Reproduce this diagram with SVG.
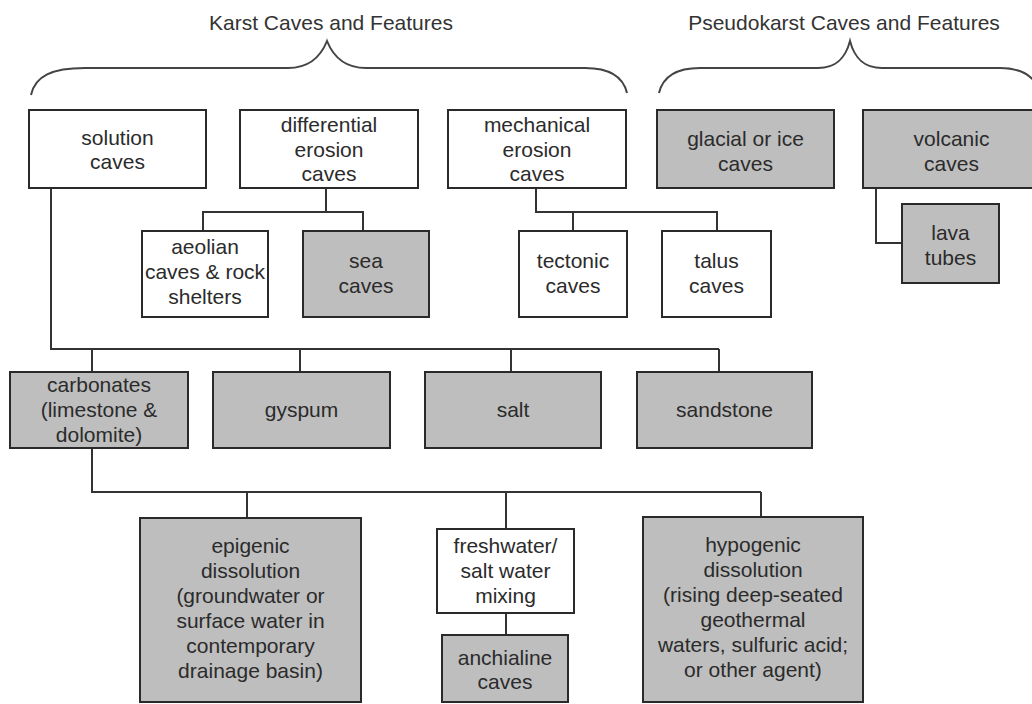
<svg xmlns="http://www.w3.org/2000/svg" width="1032" height="704" viewBox="0 0 1032 704">
<style>
.box{fill:#ffffff;stroke:#2a2a2a;stroke-width:2}
.gray{fill:#bebebe;stroke:#2a2a2a;stroke-width:2}
.lbl{font-family:"Liberation Sans",Arial,sans-serif;font-size:21px;fill:#2b2b2b;text-anchor:middle}
.title{font-family:"Liberation Sans",Arial,sans-serif;font-size:21px;fill:#333333;text-anchor:middle}
.ln{fill:none;stroke:#333333;stroke-width:2}
.brace{fill:none;stroke:#444444;stroke-width:2}
</style>
<rect width="1032" height="704" fill="#ffffff"/>
<g id="titles">
<text class="title" x="331" y="30">Karst Caves and Features</text>
<text class="title" x="844" y="30">Pseudokarst Caves and Features</text>
<path class="brace" d="M31,95 C35,76 52,68 85,68 L288,68 C310,68 321,56 327,41 C333,56 344,68 366,68 L585,68 C608,68 623,76 627,93"/>
<path class="brace" d="M659,93 C663,76 678,68 700,68 L818,68 C838,68 846,56 850,41 C854,56 862,68 882,68 L1000,68 C1022,68 1036,76 1041,95"/>
</g>
<g id="connectors">
<path class="ln" d="M51,188 V349 H719"/>
<path class="ln" d="M92,349 V372 M300,349 V372 M511,349 V372 M719,349 V372"/>
<path class="ln" d="M92,448 V492 H761"/>
<path class="ln" d="M247,492 V518 M506,492 V529 M761,492 V517"/>
<path class="ln" d="M506,613 V635"/>
<path class="ln" d="M326,188 V212 M203,231 V212 H363 V231"/>
<path class="ln" d="M536,188 V212 H717 V231 M573,212 V231"/>
<path class="ln" d="M876,188 V243 H902"/>
</g>
<g id="solution"><rect class="box" x="29" y="110" width="177" height="78"/><text class="lbl" x="117.5" y="145">solution</text><text class="lbl" x="117.5" y="169">caves</text></g>
<g id="differential"><rect class="box" x="240" y="110" width="178" height="78"/><text class="lbl" x="329" y="132">differential</text><text class="lbl" x="329" y="157">erosion</text><text class="lbl" x="329" y="181">caves</text></g>
<g id="mechanical"><rect class="box" x="448" y="110" width="178" height="78"/><text class="lbl" x="537" y="132">mechanical</text><text class="lbl" x="537" y="157">erosion</text><text class="lbl" x="537" y="181">caves</text></g>
<g id="glacial"><rect class="gray" x="657" y="110" width="177" height="78"/><text class="lbl" x="745.5" y="146">glacial or ice</text><text class="lbl" x="745.5" y="171">caves</text></g>
<g id="volcanic"><rect class="gray" x="863" y="110" width="177" height="78"/><text class="lbl" x="951.5" y="146">volcanic</text><text class="lbl" x="951.5" y="171">caves</text></g>
<g id="aeolian"><rect class="box" x="142" y="231" width="126" height="86"/><text class="lbl" x="205" y="254">aeolian</text><text class="lbl" x="205" y="279">caves &amp; rock</text><text class="lbl" x="205" y="304">shelters</text></g>
<g id="sea"><rect class="gray" x="303" y="231" width="126" height="86"/><text class="lbl" x="366" y="268">sea</text><text class="lbl" x="366" y="293">caves</text></g>
<g id="tectonic"><rect class="box" x="519" y="231" width="108" height="86"/><text class="lbl" x="573" y="268">tectonic</text><text class="lbl" x="573" y="293">caves</text></g>
<g id="talus"><rect class="box" x="662" y="231" width="109" height="86"/><text class="lbl" x="716.5" y="268">talus</text><text class="lbl" x="716.5" y="293">caves</text></g>
<g id="lava"><rect class="gray" x="902" y="204" width="97" height="79"/><text class="lbl" x="950.5" y="240">lava</text><text class="lbl" x="950.5" y="265">tubes</text></g>
<g id="carbonates"><rect class="gray" x="10" y="372" width="178" height="76"/><text class="lbl" x="99" y="392">carbonates</text><text class="lbl" x="99" y="417">(limestone &amp;</text><text class="lbl" x="99" y="442">dolomite)</text></g>
<g id="gyspum"><rect class="gray" x="213" y="372" width="177" height="76"/><text class="lbl" x="301.5" y="417">gyspum</text></g>
<g id="salt"><rect class="gray" x="425" y="372" width="176" height="76"/><text class="lbl" x="513" y="417">salt</text></g>
<g id="sandstone"><rect class="gray" x="637" y="372" width="175" height="76"/><text class="lbl" x="724.5" y="417">sandstone</text></g>
<g id="epigenic"><rect class="gray" x="140" y="518" width="221" height="184"/><text class="lbl" x="250.5" y="553">epigenic</text><text class="lbl" x="250.5" y="578">dissolution</text><text class="lbl" x="250.5" y="603">(groundwater or</text><text class="lbl" x="250.5" y="628">surface water in</text><text class="lbl" x="250.5" y="653">contemporary</text><text class="lbl" x="250.5" y="678">drainage basin)</text></g>
<g id="freshwater"><rect class="box" x="437" y="529" width="137" height="84"/><text class="lbl" x="505.5" y="553">freshwater/</text><text class="lbl" x="505.5" y="578">salt water</text><text class="lbl" x="505.5" y="603">mixing</text></g>
<g id="anchialine"><rect class="gray" x="442" y="635" width="126" height="67"/><text class="lbl" x="505" y="665">anchialine</text><text class="lbl" x="505" y="689">caves</text></g>
<g id="hypogenic"><rect class="gray" x="643" y="517" width="220" height="185"/><text class="lbl" x="753" y="552">hypogenic</text><text class="lbl" x="753" y="577">dissolution</text><text class="lbl" x="753" y="602">(rising deep-seated</text><text class="lbl" x="753" y="627">geothermal</text><text class="lbl" x="753" y="652">waters, sulfuric acid;</text><text class="lbl" x="753" y="677">or other agent)</text></g>
</svg>
